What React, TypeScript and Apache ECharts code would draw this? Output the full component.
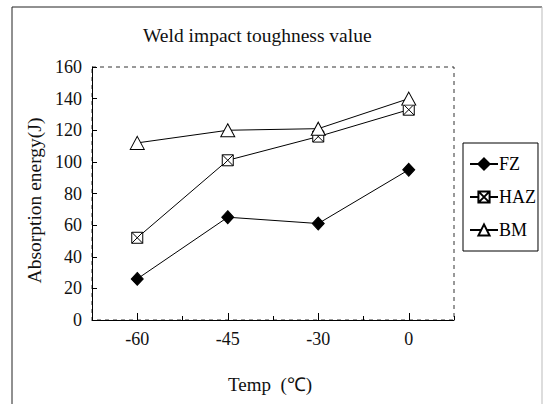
import React, { useEffect, useRef } from "react";
import * as echarts from "echarts";

const categories = ["-60", "-45", "-30", "0"];
const fzValues = [26, 65, 61, 95];
const hazValues = [52, 101, 116, 133];
const bmValues = [112, 120, 121, 140];
const yTicks = { min: 0, max: 160, interval: 20 };
const titleText = "Weld impact toughness value";
const xName = "Temp  (\u2103)";
const yName = "Absorption energy(J)";

const FONT = "Liberation Serif";
const HAZ_SYMBOL = "path://M0,0H10V10H0Z M0,0L10,10 M10,0L0,10";

export default function App() {
  const ref = useRef<HTMLDivElement>(null);
  useEffect(() => {
    if (!ref.current) return;
    const chart = echarts.init(ref.current, undefined, { renderer: "svg" });
    const lineStyle = { color: "#000", width: 1 };
    chart.setOption({
      animation: false,
      backgroundColor: "#fff",
      textStyle: { fontFamily: FONT, color: "#000" },
      title: {
        text: titleText,
        left: 138,
        top: 20,
        textStyle: { fontFamily: FONT, fontSize: 19.5, fontWeight: "normal", color: "#111" },
      },
      graphic: [
        { type: "line", shape: { x1: 12, y1: 7, x2: 12, y2: 404 }, style: { stroke: "#222", lineWidth: 1 } },
        { type: "line", shape: { x1: 12, y1: 7, x2: 542, y2: 7 }, style: { stroke: "#222", lineWidth: 1 } },
        { type: "line", shape: { x1: 542, y1: 7, x2: 542, y2: 404 }, style: { stroke: "#bbb", lineWidth: 1 } },
      ],
      grid: {
        left: 92,
        right: 544 - 454,
        top: 67,
        bottom: 404 - 320,
        show: true,
        borderColor: "#333",
        borderWidth: 1,
        borderType: [4, 4],
        backgroundColor: "transparent",
      },
      legend: {
        orient: "vertical",
        left: 463,
        top: 143,
        width: 74,
        padding: [12, 2, 12, 6],
        itemGap: 15,
        itemWidth: 28,
        itemHeight: 14,
        borderColor: "#000",
        borderWidth: 1,
        textStyle: { fontFamily: FONT, fontSize: 18, color: "#000", padding: [0, 0, 0, -4] },
        data: ["FZ", "HAZ", "BM"],
      },
      xAxis: [
        {
          type: "category",
          data: categories,
          boundaryGap: true,
          name: xName,
          nameLocation: "middle",
          nameGap: 55,
          nameTextStyle: { fontFamily: FONT, fontSize: 19, color: "#111", padding: [0, 6, 0, 0] },
          axisLine: { show: true, lineStyle: { color: "#000", width: 1 } },
          axisTick: { show: true, inside: true, alignWithLabel: true, length: 7, lineStyle: { color: "#000" } },
          axisLabel: { fontFamily: FONT, fontSize: 18, color: "#111", margin: 10 },
          splitLine: { show: false },
        },
        {
          type: "category",
          data: categories,
          boundaryGap: true,
          position: "bottom",
          axisLine: { show: false },
          axisTick: { show: true, inside: true, alignWithLabel: false, length: 4, lineStyle: { color: "#000" } },
          axisLabel: { show: false },
          splitLine: { show: false },
        },
      ],
      yAxis: {
        type: "value",
        min: yTicks.min,
        max: yTicks.max,
        interval: yTicks.interval,
        name: yName,
        nameLocation: "middle",
        nameGap: 47,
        nameTextStyle: { fontFamily: FONT, fontSize: 19.5, color: "#111", padding: [0, 14, 0, 0] },
        axisLine: { show: true, lineStyle: { color: "#000", width: 1 } },
        axisTick: { show: true, inside: true, length: 5, lineStyle: { color: "#000" } },
        axisLabel: { fontFamily: FONT, fontSize: 18, color: "#111", margin: 10 },
        splitLine: { show: false },
      },
      series: [
        {
          name: "FZ",
          type: "line",
          data: fzValues,
          symbol: "diamond",
          symbolSize: [12, 13],
          lineStyle,
          itemStyle: { color: "#000", borderColor: "#000", borderWidth: 1 },
          z: 3,
        },
        {
          name: "HAZ",
          type: "line",
          data: hazValues,
          symbol: HAZ_SYMBOL,
          symbolSize: 11,
          lineStyle,
          itemStyle: { color: "#fff", borderColor: "#000", borderWidth: 1 },
          z: 4,
        },
        {
          name: "BM",
          type: "line",
          data: bmValues,
          symbol: "triangle",
          symbolSize: [14, 13],
          lineStyle,
          itemStyle: { color: "#fff", borderColor: "#000", borderWidth: 1 },
          z: 5,
        },
      ],
    });
    return () => chart.dispose();
  }, []);
  return (
    <div
      ref={ref}
      style={{ position: "fixed", left: 0, top: 0, width: 544, height: 404, background: "#fff" }}
    />
  );
}
